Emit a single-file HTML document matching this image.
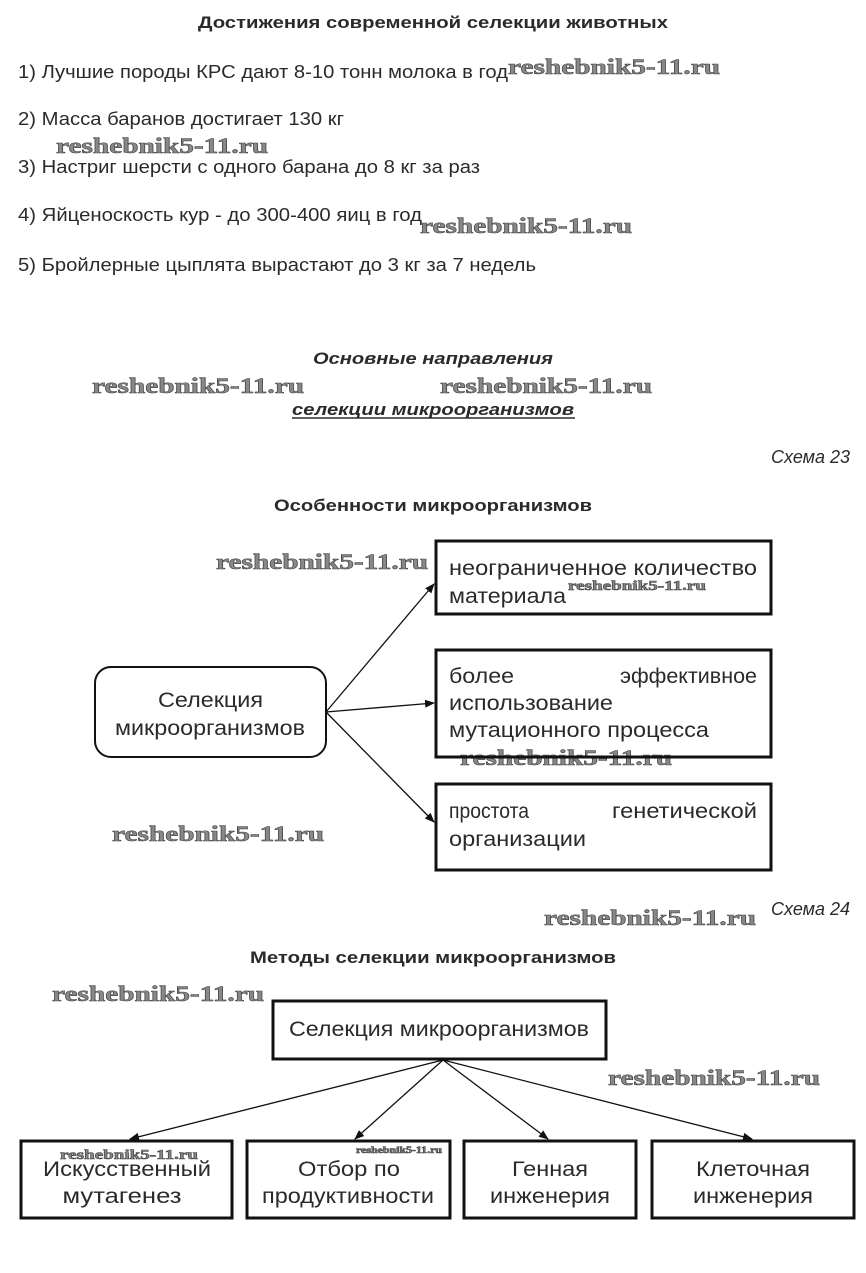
<!DOCTYPE html>
<html><head><meta charset="utf-8"><style>
html,body{margin:0;padding:0;background:#fff}
svg{display:block}
.t{font-family:"Liberation Sans",sans-serif;fill:#2a2a2a}
.w{font-family:"Liberation Serif",serif;font-weight:bold;fill:#888;stroke:#444;stroke-width:0.6}
</style></head><body>
<svg width="866" height="1273" viewBox="0 0 866 1273" xmlns="http://www.w3.org/2000/svg">
<defs><marker id="a" markerWidth="10" markerHeight="8" refX="9" refY="4" orient="auto" markerUnits="userSpaceOnUse"><path d="M0,0 L10,4 L0,8 z" fill="#111"/></marker></defs>
<text class="t" x="433" y="28" text-anchor="middle" font-size="17" font-weight="bold" textLength="470" lengthAdjust="spacingAndGlyphs">Достижения современной селекции животных</text>
<g class="t" font-size="18">
<text x="18" y="78" textLength="490" lengthAdjust="spacingAndGlyphs">1) Лучшие породы КРС дают 8-10 тонн молока в год</text>
<text x="18" y="125" textLength="326" lengthAdjust="spacingAndGlyphs">2) Масса баранов достигает 130 кг</text>
<text x="18" y="173" textLength="462" lengthAdjust="spacingAndGlyphs">3) Настриг шерсти с одного барана до 8 кг за раз</text>
<text x="18" y="221" textLength="404" lengthAdjust="spacingAndGlyphs">4) Яйценоскость кур - до 300-400 яиц в год</text>
<text x="18" y="271" textLength="518" lengthAdjust="spacingAndGlyphs">5) Бройлерные цыплята вырастают до 3 кг за 7 недель</text>
</g>
<g class="w" font-size="22">
<text x="508" y="74" textLength="212" lengthAdjust="spacingAndGlyphs">reshebnik5-11.ru</text>
<text x="56" y="153" textLength="212" lengthAdjust="spacingAndGlyphs">reshebnik5-11.ru</text>
<text x="420" y="233" textLength="212" lengthAdjust="spacingAndGlyphs">reshebnik5-11.ru</text>
<text x="92" y="393" textLength="212" lengthAdjust="spacingAndGlyphs">reshebnik5-11.ru</text>
<text x="440" y="393" textLength="212" lengthAdjust="spacingAndGlyphs">reshebnik5-11.ru</text>
<text x="216" y="569" textLength="212" lengthAdjust="spacingAndGlyphs">reshebnik5-11.ru</text>
<text x="460" y="765" textLength="212" lengthAdjust="spacingAndGlyphs">reshebnik5-11.ru</text>
<text x="112" y="841" textLength="212" lengthAdjust="spacingAndGlyphs">reshebnik5-11.ru</text>
<text x="544" y="925" textLength="212" lengthAdjust="spacingAndGlyphs">reshebnik5-11.ru</text>
<text x="52" y="1001" textLength="212" lengthAdjust="spacingAndGlyphs">reshebnik5-11.ru</text>
<text x="608" y="1085" textLength="212" lengthAdjust="spacingAndGlyphs">reshebnik5-11.ru</text>
</g>
<g class="w" font-size="14" stroke-width="0.4">
<text x="568" y="590" textLength="138" lengthAdjust="spacingAndGlyphs">reshebnik5-11.ru</text>
<text x="60" y="1159" textLength="138" lengthAdjust="spacingAndGlyphs">reshebnik5-11.ru</text>
</g>
<text class="w" x="356" y="1153" font-size="9" stroke-width="0.2" textLength="86" lengthAdjust="spacingAndGlyphs">reshebnik5-11.ru</text>
<text class="t" x="433" y="364" text-anchor="middle" font-size="17" font-weight="bold" font-style="italic" textLength="240" lengthAdjust="spacingAndGlyphs">Основные направления</text>
<text class="t" x="433" y="415" text-anchor="middle" font-size="17" font-weight="bold" font-style="italic" textLength="282" lengthAdjust="spacingAndGlyphs">селекции микроорганизмов</text>
<line x1="292" y1="418" x2="575" y2="418" stroke="#2a2a2a" stroke-width="1.5"/>
<text class="t" x="850" y="463" text-anchor="end" font-size="18" font-style="italic">Схема 23</text>
<text class="t" x="433" y="511" text-anchor="middle" font-size="17" font-weight="bold" textLength="318" lengthAdjust="spacingAndGlyphs">Особенности микроорганизмов</text>
<rect x="95" y="667" width="231" height="90" rx="16" fill="none" stroke="#111" stroke-width="2"/>
<text class="t" x="158" y="707" font-size="21" textLength="105" lengthAdjust="spacingAndGlyphs">Селекция</text>
<text class="t" x="210" y="735" text-anchor="middle" font-size="21" textLength="190" lengthAdjust="spacingAndGlyphs">микроорганизмов</text>
<g fill="none" stroke="#111" stroke-width="3">
<rect x="436" y="541" width="335" height="73"/>
<rect x="436" y="650" width="335" height="107"/>
<rect x="436" y="784" width="335" height="86"/>
</g>
<g class="t" font-size="21">
<text x="449" y="575" textLength="308" lengthAdjust="spacingAndGlyphs">неограниченное количество</text>
<text x="449" y="603" textLength="117" lengthAdjust="spacingAndGlyphs">материала</text>
<text x="449" y="683" textLength="65" lengthAdjust="spacingAndGlyphs">более</text>
<text x="620" y="683" textLength="137" lengthAdjust="spacingAndGlyphs">эффективное</text>
<text x="449" y="710" textLength="164" lengthAdjust="spacingAndGlyphs">использование</text>
<text x="449" y="737" textLength="260" lengthAdjust="spacingAndGlyphs">мутационного процесса</text>
<text x="449" y="818" textLength="80" lengthAdjust="spacingAndGlyphs">простота</text>
<text x="612" y="818" textLength="145" lengthAdjust="spacingAndGlyphs">генетической</text>
<text x="449" y="846" textLength="137" lengthAdjust="spacingAndGlyphs">организации</text>
</g>
<g stroke="#111" stroke-width="1.3" marker-end="url(#a)">
<line x1="326" y1="712" x2="434" y2="584"/>
<line x1="326" y1="712" x2="434" y2="703"/>
<line x1="326" y1="712" x2="434" y2="822"/>
</g>
<text class="t" x="850" y="915" text-anchor="end" font-size="18" font-style="italic">Схема 24</text>
<text class="t" x="433" y="963" text-anchor="middle" font-size="17" font-weight="bold" textLength="366" lengthAdjust="spacingAndGlyphs">Методы селекции микроорганизмов</text>
<g fill="none" stroke="#111" stroke-width="3">
<rect x="273" y="1001" width="333" height="58"/>
<rect x="21" y="1141" width="211" height="77"/>
<rect x="247" y="1141" width="203" height="77"/>
<rect x="464" y="1141" width="172" height="77"/>
<rect x="652" y="1141" width="202" height="77"/>
</g>
<g stroke="#111" stroke-width="1.3" marker-end="url(#a)">
<line x1="443" y1="1060" x2="130" y2="1139"/>
<line x1="443" y1="1060" x2="355" y2="1139"/>
<line x1="443" y1="1060" x2="548" y2="1139"/>
<line x1="443" y1="1060" x2="752" y2="1139"/>
</g>
<g class="t" font-size="21" text-anchor="middle">
<text x="439" y="1036" textLength="300" lengthAdjust="spacingAndGlyphs">Селекция микроорганизмов</text>
<text x="127" y="1176" textLength="168" lengthAdjust="spacingAndGlyphs">Искусственный</text>
<text x="122" y="1203" textLength="119" lengthAdjust="spacingAndGlyphs">мутагенез</text>
<text x="349" y="1176" textLength="102" lengthAdjust="spacingAndGlyphs">Отбор по</text>
<text x="348" y="1203" textLength="172" lengthAdjust="spacingAndGlyphs">продуктивности</text>
<text x="550" y="1176" textLength="76" lengthAdjust="spacingAndGlyphs">Генная</text>
<text x="550" y="1203" textLength="120" lengthAdjust="spacingAndGlyphs">инженерия</text>
<text x="753" y="1176" textLength="114" lengthAdjust="spacingAndGlyphs">Клеточная</text>
<text x="753" y="1203" textLength="120" lengthAdjust="spacingAndGlyphs">инженерия</text>
</g>
</svg>
</body></html>
